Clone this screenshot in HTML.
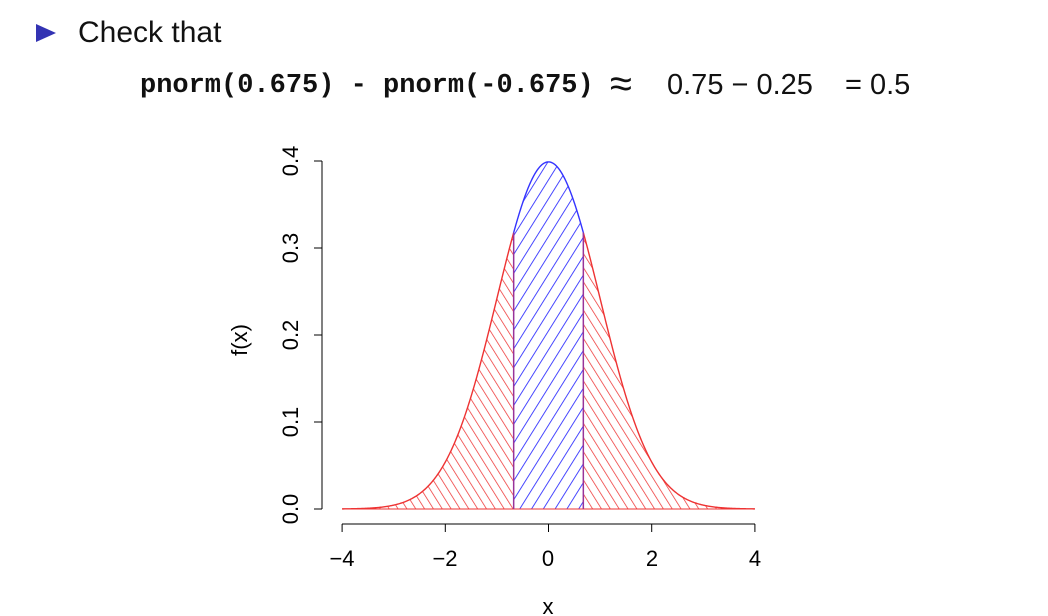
<!DOCTYPE html>
<html><head><meta charset="utf-8"><style>
body{margin:0;background:#fff;width:1048px;height:616px;overflow:hidden;position:relative;font-family:"Liberation Sans",sans-serif}
.t{position:absolute;white-space:nowrap}
</style></head><body>
<div class="t" style="left:36px;top:24px;width:0;height:0;border-top:9px solid transparent;border-bottom:9px solid transparent;border-left:20px solid #3333b3"></div>
<div class="t" style="left:78px;top:16px;font-size:30px;color:#111">Check that</div>
<div class="t" style="left:140px;top:71px;font-family:'Liberation Mono',monospace;font-weight:bold;font-size:27px;color:#111">pnorm(0.675) - pnorm(-0.675)</div>
<div class="t" style="left:610px;top:62px;font-size:40px;color:#111">≈</div>
<div class="t" style="left:667px;top:69px;font-size:29px;color:#111">0.75 − 0.25</div>
<div class="t" style="left:845px;top:69px;font-size:29px;color:#111">= 0.5</div>
<svg id="s" width="1048" height="616" style="position:absolute;left:0;top:0">
<defs>
<pattern id="pb" width="10" height="10" patternUnits="userSpaceOnUse" patternTransform="rotate(32)"><line x1="0" y1="0" x2="0" y2="10" stroke="#3333ff" stroke-width="1.8"/></pattern>
<pattern id="pr" width="7.5" height="7.5" patternUnits="userSpaceOnUse" patternTransform="rotate(-32)"><line x1="0" y1="0" x2="0" y2="7.5" stroke="#ee3333" stroke-width="1.5"/></pattern>
</defs>
<g id="g"></g>
<g stroke="#000" stroke-width="1" fill="none">
<line x1="342" y1="524" x2="755" y2="524"/>
<line x1="322" y1="161" x2="322" y2="509"/>
</g>
<g font-size="22" fill="#000" text-anchor="middle">
<text x="342" y="566">−4</text><text x="445" y="566">−2</text><text x="548" y="566">0</text><text x="652" y="566">2</text><text x="755" y="566">4</text>
<text x="548" y="614">x</text>
<text transform="translate(298,509) rotate(-90)">0.0</text>
<text transform="translate(298,422) rotate(-90)">0.1</text>
<text transform="translate(298,335) rotate(-90)">0.2</text>
<text transform="translate(298,248) rotate(-90)">0.3</text>
<text transform="translate(298,161) rotate(-90)">0.4</text>
<text transform="translate(247,340) rotate(-90)">f(x)</text>
</g>
</svg>
<script>
var X=v=>548.5+v*51.6,Y=v=>509-v*870,f=x=>Math.exp(-x*x/2)/Math.sqrt(2*Math.PI);
function area(a,b){var d="M"+X(a)+","+Y(0);for(var i=0;i<=200;i++){var x=a+(b-a)*i/200;d+=" L"+X(x).toFixed(2)+","+Y(f(x)).toFixed(2);}return d+" L"+X(b)+","+Y(0)+" Z";}
function curve(a,b){var d="";for(var i=0;i<=200;i++){var x=a+(b-a)*i/200;d+=(i?" L":"M")+X(x).toFixed(2)+","+Y(f(x)).toFixed(2);}return d;}
var g=document.getElementById("g"),h="";
h+='<path d="'+area(-4,-0.675)+'" fill="url(#pr)"/>';
h+='<path d="'+area(0.675,4)+'" fill="url(#pr)"/>';
h+='<path d="'+area(-0.675,0.675)+'" fill="url(#pb)"/>';
h+='<path d="'+curve(-4,-0.675)+'" stroke="#ee3333" fill="none" stroke-width="1.4"/>';
h+='<path d="'+curve(0.675,4)+'" stroke="#ee3333" fill="none" stroke-width="1.4"/>';
h+='<path d="'+curve(-0.675,0.675)+'" stroke="#3333ff" fill="none" stroke-width="1.4"/>';
h+='<line x1="'+X(-4)+'" y1="509" x2="'+X(4)+'" y2="509" stroke="#ee3333" stroke-width="1"/>';
h+='<line x1="'+X(-0.675)+'" y1="509" x2="'+X(-0.675)+'" y2="'+Y(f(0.675))+'" stroke="#993399" stroke-width="1.5"/>';
h+='<line x1="'+X(0.675)+'" y1="509" x2="'+X(0.675)+'" y2="'+Y(f(0.675))+'" stroke="#993399" stroke-width="1.5"/>';
[-4,-2,0,2,4].forEach(v=>h+='<line x1="'+X(v)+'" y1="524" x2="'+X(v)+'" y2="532" stroke="#000"/>');
[0,0.1,0.2,0.3,0.4].forEach(v=>h+='<line x1="314" y1="'+Y(v)+'" x2="322" y2="'+Y(v)+'" stroke="#000"/>');
g.innerHTML=h;
</script>
</body></html>
